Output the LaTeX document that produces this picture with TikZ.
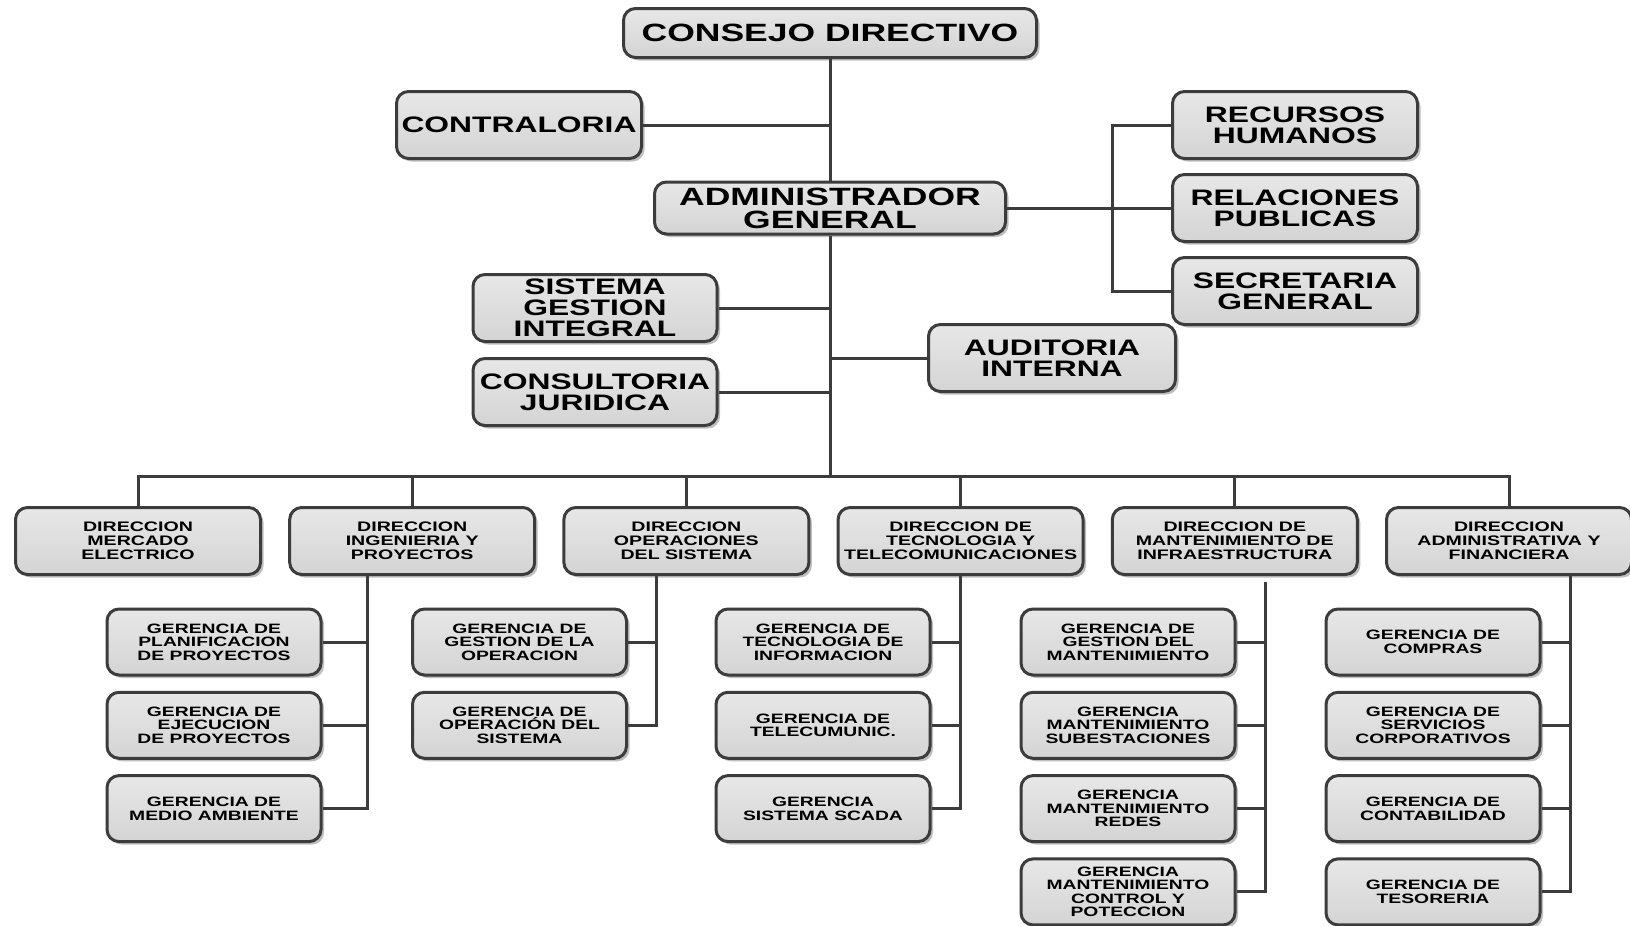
\documentclass[tikz,border=0pt]{standalone}
\usepackage{fontspec}
\setmainfont{Liberation Sans}[FakeStretch=1.42]
\usetikzlibrary{shadows,calc}

\definecolor{boxline}{HTML}{3C3C3C}
\definecolor{boxfill}{HTML}{D4D4D4}

\tikzset{
  unit/.style={draw=boxline, line width=3pt, rounded corners=12pt,
    top color=boxfill!55!white, bottom color=boxfill,
    align=center, inner sep=0pt,
    drop shadow={shadow xshift=3pt, shadow yshift=-3pt, opacity=0.25, fill=black}},
  topunit/.style={unit, minimum width=413pt, minimum height=49pt,
    font=\bfseries\fontsize{25}{23}\selectfont},
  staffunit/.style={unit, minimum width=245pt, minimum height=67pt,
    font=\bfseries\fontsize{22.4}{21}\selectfont},
  dirunit/.style={unit, minimum width=245pt, minimum height=67pt,
    font=\bfseries\fontsize{13.8}{13.8}\selectfont},
  gerunit/.style={unit, minimum width=214pt, minimum height=66pt,
    font=\bfseries\fontsize{13.6}{13.5}\selectfont},
  link/.style={draw=boxline, line width=3pt},
}

\begin{document}
\begin{tikzpicture}[x=1pt,y=-1pt]
  \useasboundingbox (0,0) rectangle (1630,926);
  \def \rowgap {83.3}

  % upper levels
  \node[topunit] (consejo) at (830,33) {CONSEJO DIRECTIVO};
  \node[staffunit] (contraloria) at (519,125) {CONTRALORIA};
  \node[topunit, minimum width=351pt, minimum height=52pt] (admin) at (830,208) {ADMINISTRADOR\\GENERAL};
  \node[staffunit] (rrhh) at (1295,125) {RECURSOS\\HUMANOS};
  \node[staffunit] (rrpp) at (1295,208) {RELACIONES\\PUBLICAS};
  \node[staffunit] (secretaria) at (1295,291) {SECRETARIA\\GENERAL};
  \node[staffunit, minimum width=244pt] (sgi) at (595,308) {SISTEMA\\GESTION\\INTEGRAL};
  \node[staffunit, minimum width=244pt] (juridica) at (595,392) {CONSULTORIA\\JURIDICA};
  \node[staffunit, minimum width=247pt] (auditoria) at (1052,358) {AUDITORIA\\INTERNA};

  \coordinate (bus) at (830,476);
  \coordinate (rbus) at (1112,208);

  % direcciones
  \foreach \txt [count=\i] in {{DIRECCION\\MERCADO\\ELECTRICO},
      {DIRECCION\\INGENIERIA Y\\PROYECTOS},
      {DIRECCION\\OPERACIONES\\DEL SISTEMA},
      {DIRECCION DE\\TECNOLOGIA Y\\TELECOMUNICACIONES},
      {DIRECCION DE\\MANTENIMIENTO DE\\INFRAESTRUCTURA},
      {DIRECCION\\ADMINISTRATIVA Y\\FINANCIERA}}
    \node[dirunit] (dir\i) at ({138+274.2*(\i-1)},541) {\txt};

  % gerencias
  \foreach \txt [count=\k] in {{GERENCIA DE\\PLANIFICACION\\DE PROYECTOS},
      {GERENCIA DE\\EJECUCION\\DE PROYECTOS},
      {GERENCIA DE\\MEDIO AMBIENTE}}
    \node[gerunit] (gerA\k) at (214,{642+\rowgap*(\k-1)}) {\txt};
  \foreach \txt [count=\k] in {{GERENCIA DE\\GESTION DE LA\\OPERACION},
      {GERENCIA DE\\OPERACIÓN DEL\\SISTEMA}}
    \node[gerunit] (gerB\k) at (519.5,{642+\rowgap*(\k-1)}) {\txt};
  \foreach \txt [count=\k] in {{GERENCIA DE\\TECNOLOGIA DE\\INFORMACION},
      {GERENCIA DE\\TELECUMUNIC.},
      {GERENCIA\\SISTEMA SCADA}}
    \node[gerunit] (gerC\k) at (823,{642+\rowgap*(\k-1)}) {\txt};
  \foreach \txt [count=\k] in {{GERENCIA DE\\GESTION DEL\\MANTENIMIENTO},
      {GERENCIA\\MANTENIMIENTO\\SUBESTACIONES},
      {GERENCIA\\MANTENIMIENTO\\REDES},
      {GERENCIA\\MANTENIMIENTO\\CONTROL Y\\POTECCION}}
    \node[gerunit] (gerD\k) at (1128,{642+\rowgap*(\k-1)}) {\txt};
  \foreach \txt [count=\k] in {{GERENCIA DE\\COMPRAS},
      {GERENCIA DE\\SERVICIOS\\CORPORATIVOS},
      {GERENCIA DE\\CONTABILIDAD},
      {GERENCIA DE\\TESORERIA}}
    \node[gerunit] (gerE\k) at (1433,{642+\rowgap*(\k-1)}) {\txt};

  % main trunk and staff links
  \draw[link] (consejo.south) -- (admin.north);
  \draw[link] (admin.south) -- (bus);
  \draw[link] (contraloria.east) -- (contraloria.east -| consejo.south);
  \draw[link] (admin.east) -- (rrpp.west);
  \draw[link] (rrhh.west) -| (rbus) |- (secretaria.west);
  \draw[link] (sgi.east) -- (sgi.east -| bus);
  \draw[link] (juridica.east) -- (juridica.east -| bus);
  \draw[link] (auditoria.west) -- (auditoria.west -| bus);

  % bus to direcciones
  \draw[link] (dir1.north) |- (bus) -| (dir6.north);
  \foreach \i in {2,...,5}
    \draw[link] (dir\i.north) -- (dir\i.north |- bus);

  % spines to gerencias
  \coordinate (spineA) at (367,575);
  \coordinate (spineB) at (656,575);
  \coordinate (spineC) at (960,575);
  \coordinate (spineD) at (1265,582);
  \coordinate (spineE) at (1570,575);
  \draw[link] (spineA) |- (gerA3.east);
  \draw[link] (spineB) |- (gerB2.east);
  \draw[link] (spineC) |- (gerC3.east);
  \draw[link] (spineD) |- (gerD4.east);
  \draw[link] (spineE) |- (gerE4.east);
  \foreach \k in {1,2}
    \draw[link] (gerA\k.east) -- (gerA\k.east -| spineA);
  \draw[link] (gerB1.east) -- (gerB1.east -| spineB);
  \foreach \k in {1,2}
    \draw[link] (gerC\k.east) -- (gerC\k.east -| spineC);
  \foreach \k in {1,2,3} {
    \draw[link] (gerD\k.east) -- (gerD\k.east -| spineD);
    \draw[link] (gerE\k.east) -- (gerE\k.east -| spineE);
  }
\end{tikzpicture}
\end{document}
